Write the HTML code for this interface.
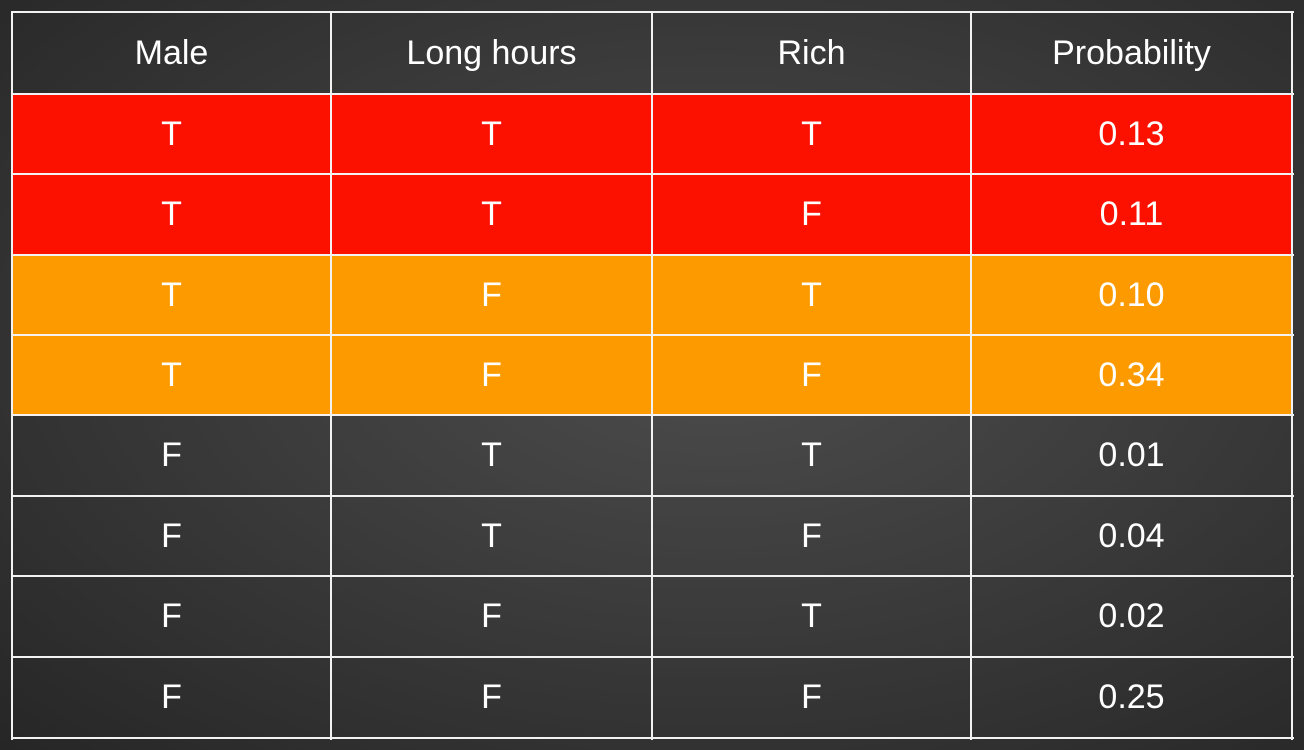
<!DOCTYPE html>
<html><head><meta charset="utf-8"><style>
html,body{margin:0;padding:0;width:1304px;height:750px;overflow:hidden;}
body{position:relative;background:radial-gradient(ellipse at 55% 45%, #4d4d4d 0%, #3c3c3c 45%, #262626 100%);font-family:"Liberation Sans",Arial,sans-serif;}
.cell{position:absolute;display:flex;align-items:center;justify-content:center;color:#fff;font-size:34px;}
.hl{position:absolute;background:#f2f2f2;height:2px;left:11px;width:1283px;}
.vl{position:absolute;background:#f2f2f2;width:2px;top:11px;height:729px;}
</style></head><body>
<div id="tbl"></div>
<script>
var headers=["Male","Long hours","Rich","Probability"];
var rows=[["T","T","T","0.13"],["T","T","F","0.11"],["T","F","T","0.10"],["T","F","F","0.34"],["F","T","T","0.01"],["F","T","F","0.04"],["F","F","T","0.02"],["F","F","F","0.25"]];
var rowColors=["#fc1100","#fc1100","#fc9a00","#fc9a00",null,null,null,null];
var ys=[12,94,174,255,335,415,496,576,657,738];
var xs=[12,331,652,971,1292];
var tbl=document.getElementById('tbl');
function cell(x0,x1,y0,y1,txt,bg,name){
  var d=document.createElement('div');d.className='cell';
  d.style.left=x0+'px';d.style.width=(x1-x0)+'px';d.style.top=y0+'px';d.style.height=(y1-y0)+'px';
  if(bg)d.style.background=bg;
  d.textContent=txt;
  
  
  tbl.appendChild(d);
}
headers.forEach(function(h,c){cell(xs[c],xs[c+1],ys[0],ys[1],h,null,'header-'+c);});
rows.forEach(function(r,i){r.forEach(function(v,c){cell(xs[c],xs[c+1],ys[i+1],ys[i+2],v,rowColors[i],'cell-r'+i+'-c'+c);});});
ys.forEach(function(y){var l=document.createElement('div');l.className='hl';l.style.top=(y-1)+'px';
  
  
  tbl.appendChild(l);});
xs.forEach(function(x){var l=document.createElement('div');l.className='vl';l.style.left=(x-1)+'px';
  
  
  tbl.appendChild(l);});
</script>
</body></html>
